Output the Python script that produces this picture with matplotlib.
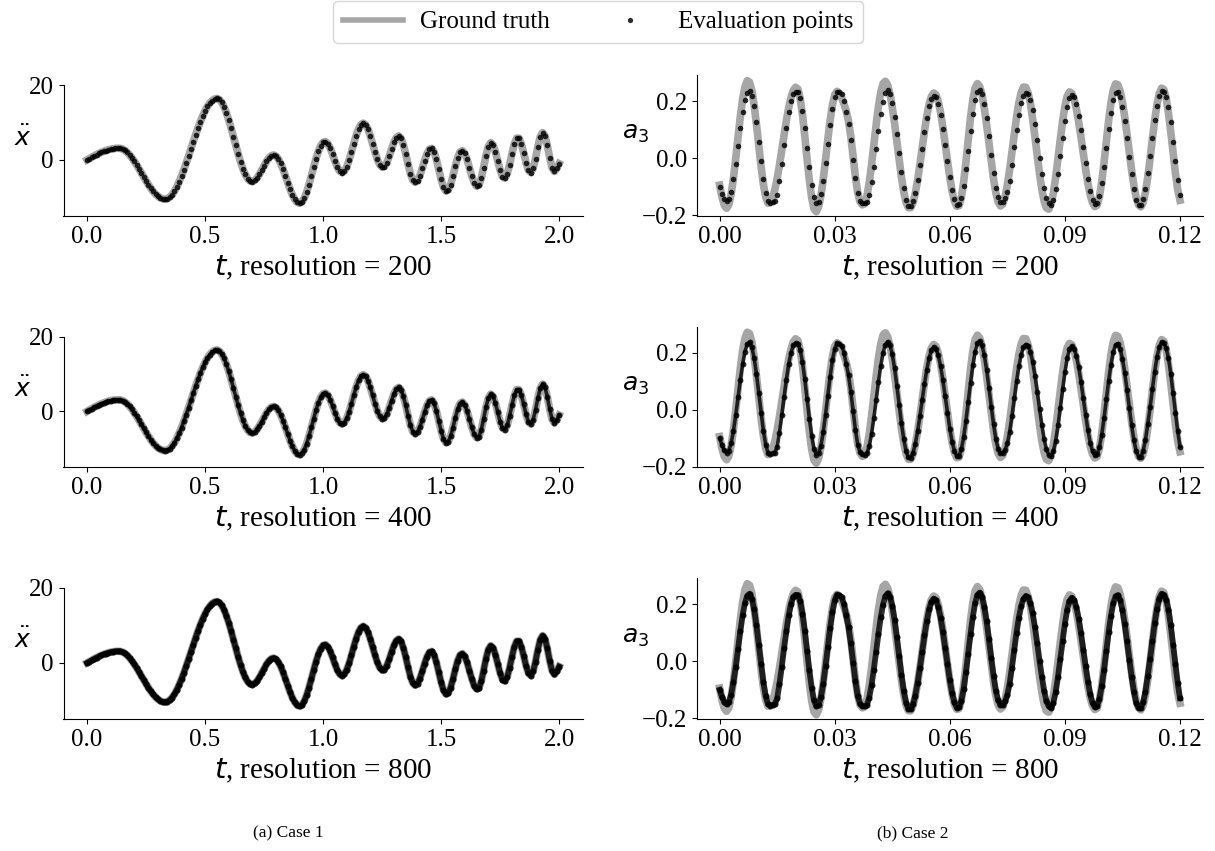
import matplotlib.pyplot as plt
import numpy as np
from matplotlib.lines import Line2D

plt.rcParams["font.family"] = "serif"
plt.rcParams["font.serif"] = ["Liberation Serif", "DejaVu Serif"]
plt.rcParams["mathtext.fontset"] = "dejavusans"
plt.rcParams["font.size"] = 18

RESOLUTIONS = [200, 400, 800]

# Case 1: acceleration, sampled every 0.01
T1 = np.linspace(0.0, 2.0, 201)
XDDOT = [
    0.00, 0.36, 0.72, 1.07, 1.40, 1.71, 2.01, 2.27, 2.50, 2.70,
    2.86, 2.98, 3.06, 3.10, 3.07, 2.88, 2.52, 2.00, 1.33, 0.54,
    -0.36, -1.35, -2.40, -3.48, -4.57, -5.63, -6.65, -7.59, -8.44, -9.15,
    -9.73, -10.15, -10.41, -10.50, -10.36, -9.95, -9.28, -8.36, -7.22, -5.86,
    -4.32, -2.64, -0.84, 1.03, 2.95, 4.87, 6.74, 8.54, 10.22, 11.76,
    13.12, 14.26, 15.18, 15.85, 16.26, 16.40, 16.15, 15.41, 14.22, 12.63,
    10.71, 8.55, 6.24, 3.89, 1.60, -0.51, -2.38, -3.90, -5.00, -5.64,
    -5.79, -5.51, -4.84, -3.88, -2.73, -1.53, -0.41, 0.50, 1.09, 1.30,
    1.04, 0.28, -0.93, -2.47, -4.23, -6.07, -7.83, -9.37, -10.58, -11.34,
    -11.60, -11.25, -10.24, -8.65, -6.62, -4.31, -1.92, 0.35, 2.31, 3.79,
    4.68, 4.88, 4.34, 3.13, 1.47, -0.32, -1.92, -3.01, -3.40, -3.00,
    -1.86, -0.10, 2.05, 4.35, 6.50, 8.26, 9.40, 9.80, 9.38, 8.19,
    6.39, 4.24, 2.03, 0.10, -1.30, -1.96, -1.78, -0.73, 0.94, 2.89,
    4.69, 5.94, 6.40, 5.79, 4.07, 1.58, -1.18, -3.67, -5.39, -6.00,
    -5.52, -4.19, -2.29, -0.20, 1.62, 2.79, 3.07, 2.16, 0.14, -2.51,
    -5.20, -7.30, -8.34, -8.09, -6.66, -4.38, -1.77, 0.57, 2.09, 2.48,
    1.74, 0.10, -2.07, -4.29, -6.08, -7.01, -6.78, -4.97, -2.05, 1.10,
    3.56, 4.59, 4.03, 2.23, -0.28, -2.74, -4.45, -4.87, -3.75, -1.36,
    1.60, 4.24, 5.79, 5.80, 4.32, 1.85, -0.81, -2.77, -3.39, -2.26,
    0.36, 3.54, 6.16, 7.29, 6.46, 3.90, 0.62, -2.07, -3.10, -2.30,
    -1.00,
]

# Case 2: a_3, sampled every 0.0006
T2 = np.linspace(0.0, 0.12, 201)
A3_TRUE = [
    -0.094, -0.135, -0.164, -0.175, -0.163, -0.126, -0.070, -0.001, 0.074, 0.146,
    0.207, 0.250, 0.271, 0.266, 0.237, 0.185, 0.119, 0.045, -0.028, -0.091,
    -0.135, -0.157, -0.155, -0.139, -0.110, -0.071, -0.024, 0.028, 0.081, 0.132,
    0.176, 0.212, 0.237, 0.248, 0.242, 0.209, 0.152, 0.078, -0.003, -0.078,
    -0.139, -0.177, -0.187, -0.170, -0.132, -0.075, -0.007, 0.065, 0.132, 0.186,
    0.222, 0.234, 0.228, 0.212, 0.190, 0.165, 0.130, 0.075, 0.005, -0.065,
    -0.120, -0.152, -0.163, -0.159, -0.132, -0.085, -0.023, 0.047, 0.117, 0.181,
    0.230, 0.261, 0.269, 0.256, 0.225, 0.179, 0.122, 0.058, -0.007, -0.067,
    -0.118, -0.154, -0.173, -0.173, -0.156, -0.123, -0.077, -0.023, 0.036, 0.094,
    0.147, 0.188, 0.216, 0.228, 0.222, 0.198, 0.159, 0.108, 0.049, -0.011,
    -0.068, -0.115, -0.150, -0.168, -0.166, -0.138, -0.084, -0.014, 0.065, 0.142,
    0.205, 0.246, 0.261, 0.251, 0.221, 0.175, 0.117, 0.053, -0.013, -0.072,
    -0.121, -0.153, -0.167, -0.160, -0.135, -0.094, -0.040, 0.021, 0.084, 0.144,
    0.194, 0.230, 0.249, 0.248, 0.228, 0.194, 0.137, 0.075, 0.008, -0.055,
    -0.110, -0.151, -0.174, -0.178, -0.159, -0.121, -0.066, -0.002, 0.066, 0.129,
    0.182, 0.217, 0.232, 0.227, 0.206, 0.172, 0.126, 0.073, 0.017, -0.038,
    -0.088, -0.128, -0.156, -0.169, -0.164, -0.135, -0.083, -0.016, 0.058, 0.131,
    0.193, 0.238, 0.260, 0.257, 0.235, 0.196, 0.144, 0.083, 0.019, -0.043,
    -0.097, -0.138, -0.163, -0.170, -0.155, -0.119, -0.066, -0.002, 0.067, 0.132,
    0.187, 0.226, 0.245, 0.240, 0.210, 0.158, 0.092, 0.019, -0.051, -0.109,
    -0.147,
]
A3_EVAL = [
    -0.100, -0.124, -0.142, -0.150, -0.143, -0.117, -0.074, -0.019, 0.043, 0.105,
    0.160, 0.203, 0.229, 0.236, 0.219, 0.181, 0.125, 0.058, -0.011, -0.073,
    -0.122, -0.150, -0.155, -0.153, -0.150, -0.130, -0.080, -0.020, 0.045, 0.105,
    0.160, 0.200, 0.225, 0.232, 0.231, 0.210, 0.166, 0.106, 0.037, -0.032,
    -0.092, -0.136, -0.157, -0.153, -0.126, -0.079, -0.018, 0.049, 0.116, 0.173,
    0.213, 0.233, 0.230, 0.224, 0.200, 0.160, 0.120, 0.062, -0.005, -0.070,
    -0.122, -0.148, -0.156, -0.158, -0.153, -0.127, -0.084, -0.029, 0.033, 0.096,
    0.153, 0.198, 0.227, 0.237, 0.226, 0.194, 0.145, 0.083, 0.017, -0.048,
    -0.104, -0.145, -0.167, -0.168, -0.151, -0.120, -0.076, -0.023, 0.034, 0.090,
    0.140, 0.181, 0.208, 0.219, 0.213, 0.190, 0.152, 0.103, 0.047, -0.011,
    -0.066, -0.112, -0.144, -0.162, -0.161, -0.139, -0.097, -0.039, 0.027, 0.094,
    0.155, 0.203, 0.232, 0.240, 0.225, 0.190, 0.139, 0.077, 0.011, -0.051,
    -0.103, -0.137, -0.152, -0.153, -0.140, -0.118, -0.078, -0.022, 0.040, 0.100,
    0.152, 0.192, 0.218, 0.228, 0.224, 0.203, 0.167, 0.118, 0.062, 0.002,
    -0.054, -0.103, -0.139, -0.158, -0.163, -0.145, -0.108, -0.055, 0.007, 0.072,
    0.131, 0.180, 0.211, 0.222, 0.213, 0.188, 0.148, 0.097, 0.040, -0.018,
    -0.071, -0.116, -0.146, -0.160, -0.156, -0.131, -0.087, -0.030, 0.036, 0.101,
    0.158, 0.202, 0.227, 0.231, 0.214, 0.179, 0.129, 0.069, 0.006, -0.055,
    -0.107, -0.145, -0.164, -0.164, -0.144, -0.106, -0.051, 0.008, 0.072, 0.133,
    0.184, 0.219, 0.236, 0.232, 0.215, 0.180, 0.125, 0.058, -0.010, -0.075,
    -0.129,
]

GREY = "#a6a6a6"
DOT = "#000000"
# marker size / joining line width for the evaluation points at each resolution
POINT_STYLE = {200: (4.0, 0.0), 400: (4.2, 2.6), 800: (4.4, 4.2)}

W, H = 1215, 851
fig = plt.figure(figsize=(W / 100, H / 100), dpi=100)


def add_axes(left, top, right, bottom):
    return fig.add_axes([left / W, 1 - bottom / H, (right - left) / W, (bottom - top) / H])


def draw(ax, t, truth, pred, res):
    ax.plot(t, truth, color=GREY, lw=5.5, zorder=1)
    ms, lw = POINT_STYLE[res]
    ax.plot(t, pred, color=DOT, alpha=0.82, lw=lw, ls="-" if lw else "none",
            marker="o", ms=ms, mec="none", zorder=2)
    ax.spines["top"].set_visible(False)
    ax.spines["right"].set_visible(False)
    ax.set_xlabel(rf"$t$, resolution = {res}", fontsize=21, labelpad=4)


row_step = 251.5
for i, res in enumerate(RESOLUTIONS):
    dy = i * row_step

    ax = add_axes(63.5, 85 + dy, 582.7, 216 + dy)
    draw(ax, T1, XDDOT, XDDOT, res)
    ax.set_ylim(-15, 20)
    ax.set_yticks([0, 20])
    ax.set_xticks([0.0, 0.5, 1.0, 1.5, 2.0])
    ax.set_ylabel(r"$\ddot{x}$", rotation=0)

    ax = add_axes(696.6, 75 + dy, 1203, 216 + dy)
    draw(ax, T2, A3_TRUE, A3_EVAL, res)
    ax.set_ylim(-0.202, 0.291)
    ax.set_yticks([-0.2, 0.0, 0.2])
    ax.set_xticks([0.0, 0.03, 0.06, 0.09, 0.12])
    ax.set_ylabel(r"$a_3$", rotation=0)

handles = [
    Line2D([], [], color=GREY, lw=4),
    Line2D([], [], color=DOT, alpha=0.82, ls="none", marker="o", ms=3.8, mec="none"),
]
fig.legend(handles, ["Ground truth", "Evaluation points"], loc="upper center",
           bbox_to_anchor=(0.492, 0.999), ncol=2, frameon=True, fancybox=True,
           edgecolor="#cccccc", handlelength=2.4, columnspacing=2.0,
           handletextpad=0.7, borderaxespad=0.0)

fig.text(288 / W, 1 - 833 / H, "(a) Case 1", ha="center", va="center", fontsize=12.5)
fig.text(913 / W, 1 - 833 / H, "(b) Case 2", ha="center", va="center", fontsize=12.5)

fig.savefig("out.png", dpi=100)
